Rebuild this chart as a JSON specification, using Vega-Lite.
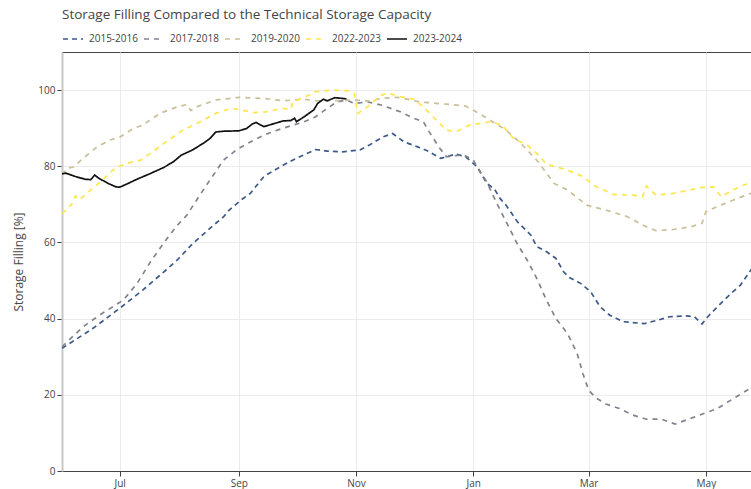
{
  "$schema": "https://vega.github.io/schema/vega-lite/v6.json",
  "width": 690,
  "height": 419,
  "autosize": {"type": "none"},
  "padding": {"left": 62, "top": 52, "right": 0, "bottom": 18},
  "title": {"text": "Storage Filling Compared to the Technical Storage Capacity", "anchor": "start", "frame": "group", "font": "Open Sans", "fontSize": 13.5, "fontWeight": "normal", "color": "#444", "offset": 7},
  "datasets": {
    "raw": [
      {"s":"2015-2016","d":"2023-06-01","v":32.2},{"s":"2015-2016","d":"2023-06-17","v":37.4},{"s":"2015-2016","d":"2023-07-01","v":42.7},{"s":"2015-2016","d":"2023-07-13","v":47.5},{"s":"2015-2016","d":"2023-07-25","v":52.7},{"s":"2015-2016","d":"2023-07-31","v":55.4},{"s":"2015-2016","d":"2023-08-08","v":59.7},{"s":"2015-2016","d":"2023-08-19","v":64.6},{"s":"2015-2016","d":"2023-08-24","v":66.7},{"s":"2015-2016","d":"2023-08-27","v":68.5},{"s":"2015-2016","d":"2023-09-02","v":71.1},{"s":"2015-2016","d":"2023-09-07","v":72.9},{"s":"2015-2016","d":"2023-09-14","v":77.3},{"s":"2015-2016","d":"2023-09-24","v":80.3},{"s":"2015-2016","d":"2023-10-01","v":82.1},{"s":"2015-2016","d":"2023-10-11","v":84.4},{"s":"2015-2016","d":"2023-10-17","v":84.0},{"s":"2015-2016","d":"2023-10-25","v":83.8},{"s":"2015-2016","d":"2023-11-03","v":84.3},{"s":"2015-2016","d":"2023-11-08","v":85.6},{"s":"2015-2016","d":"2023-11-15","v":87.7},{"s":"2015-2016","d":"2023-11-20","v":88.6},{"s":"2015-2016","d":"2023-11-26","v":86.4},{"s":"2015-2016","d":"2023-12-03","v":85.1},{"s":"2015-2016","d":"2023-12-08","v":84.1},{"s":"2015-2016","d":"2023-12-15","v":82.1},{"s":"2015-2016","d":"2023-12-18","v":82.5},{"s":"2015-2016","d":"2023-12-23","v":83.2},{"s":"2015-2016","d":"2023-12-28","v":82.5},{"s":"2015-2016","d":"2024-01-03","v":79.9},{"s":"2015-2016","d":"2024-01-08","v":75.5},{"s":"2015-2016","d":"2024-01-12","v":74.0},{"s":"2015-2016","d":"2024-01-15","v":71.5},{"s":"2015-2016","d":"2024-01-18","v":69.8},{"s":"2015-2016","d":"2024-01-24","v":65.4},{"s":"2015-2016","d":"2024-01-31","v":61.9},{"s":"2015-2016","d":"2024-02-03","v":58.9},{"s":"2015-2016","d":"2024-02-08","v":57.6},{"s":"2015-2016","d":"2024-02-13","v":55.8},{"s":"2015-2016","d":"2024-02-17","v":52.3},{"s":"2015-2016","d":"2024-02-20","v":50.8},{"s":"2015-2016","d":"2024-02-26","v":49.2},{"s":"2015-2016","d":"2024-03-02","v":47.1},{"s":"2015-2016","d":"2024-03-07","v":43.1},{"s":"2015-2016","d":"2024-03-12","v":40.9},{"s":"2015-2016","d":"2024-03-19","v":39.2},{"s":"2015-2016","d":"2024-03-30","v":38.7},{"s":"2015-2016","d":"2024-04-06","v":39.6},{"s":"2015-2016","d":"2024-04-12","v":40.5},{"s":"2015-2016","d":"2024-04-21","v":40.7},{"s":"2015-2016","d":"2024-04-25","v":40.5},{"s":"2015-2016","d":"2024-04-29","v":38.6},{"s":"2015-2016","d":"2024-05-02","v":40.5},{"s":"2015-2016","d":"2024-05-07","v":43.1},{"s":"2015-2016","d":"2024-05-14","v":46.6},{"s":"2015-2016","d":"2024-05-19","v":48.8},{"s":"2015-2016","d":"2024-05-25","v":53.2},

      {"s":"2017-2018","d":"2023-06-01","v":32.6},{"s":"2017-2018","d":"2023-06-12","v":37.9},{"s":"2017-2018","d":"2023-06-22","v":41.4},{"s":"2017-2018","d":"2023-07-03","v":44.9},{"s":"2017-2018","d":"2023-07-10","v":49.2},{"s":"2017-2018","d":"2023-07-17","v":54.9},{"s":"2017-2018","d":"2023-07-25","v":60.6},{"s":"2017-2018","d":"2023-07-31","v":64.5},{"s":"2017-2018","d":"2023-08-05","v":67.2},{"s":"2017-2018","d":"2023-08-10","v":71.1},{"s":"2017-2018","d":"2023-08-17","v":76.4},{"s":"2017-2018","d":"2023-08-24","v":81.6},{"s":"2017-2018","d":"2023-08-31","v":84.4},{"s":"2017-2018","d":"2023-09-07","v":86.4},{"s":"2017-2018","d":"2023-09-14","v":88.2},{"s":"2017-2018","d":"2023-09-21","v":89.5},{"s":"2017-2018","d":"2023-09-28","v":90.6},{"s":"2017-2018","d":"2023-10-05","v":91.7},{"s":"2017-2018","d":"2023-10-11","v":93.0},{"s":"2017-2018","d":"2023-10-17","v":95.2},{"s":"2017-2018","d":"2023-10-22","v":96.9},{"s":"2017-2018","d":"2023-10-27","v":97.4},{"s":"2017-2018","d":"2023-10-31","v":96.5},{"s":"2017-2018","d":"2023-11-07","v":96.9},{"s":"2017-2018","d":"2023-11-14","v":96.1},{"s":"2017-2018","d":"2023-11-19","v":95.2},{"s":"2017-2018","d":"2023-11-24","v":94.3},{"s":"2017-2018","d":"2023-12-01","v":92.6},{"s":"2017-2018","d":"2023-12-06","v":91.7},{"s":"2017-2018","d":"2023-12-09","v":89.1},{"s":"2017-2018","d":"2023-12-14","v":85.1},{"s":"2017-2018","d":"2023-12-18","v":82.5},{"s":"2017-2018","d":"2023-12-23","v":82.8},{"s":"2017-2018","d":"2023-12-27","v":83.0},{"s":"2017-2018","d":"2024-01-01","v":81.6},{"s":"2017-2018","d":"2024-01-04","v":79.0},{"s":"2017-2018","d":"2024-01-08","v":75.9},{"s":"2017-2018","d":"2024-01-13","v":70.5},{"s":"2017-2018","d":"2024-01-18","v":65.5},{"s":"2017-2018","d":"2024-01-24","v":59.5},{"s":"2017-2018","d":"2024-01-29","v":55.4},{"s":"2017-2018","d":"2024-02-03","v":50.6},{"s":"2017-2018","d":"2024-02-08","v":44.9},{"s":"2017-2018","d":"2024-02-13","v":40.0},{"s":"2017-2018","d":"2024-02-19","v":36.1},{"s":"2017-2018","d":"2024-02-24","v":30.9},{"s":"2017-2018","d":"2024-02-27","v":25.6},{"s":"2017-2018","d":"2024-03-01","v":21.2},{"s":"2017-2018","d":"2024-03-05","v":19.1},{"s":"2017-2018","d":"2024-03-10","v":17.6},{"s":"2017-2018","d":"2024-03-17","v":16.4},{"s":"2017-2018","d":"2024-03-24","v":14.7},{"s":"2017-2018","d":"2024-03-31","v":13.6},{"s":"2017-2018","d":"2024-04-08","v":13.6},{"s":"2017-2018","d":"2024-04-15","v":12.3},{"s":"2017-2018","d":"2024-04-23","v":13.8},{"s":"2017-2018","d":"2024-05-01","v":15.3},{"s":"2017-2018","d":"2024-05-07","v":16.4},{"s":"2017-2018","d":"2024-05-14","v":18.6},{"s":"2017-2018","d":"2024-05-25","v":22.0},

      {"s":"2019-2020","d":"2023-06-01","v":77.8},{"s":"2019-2020","d":"2023-06-04","v":79.5},{"s":"2019-2020","d":"2023-06-07","v":79.8},{"s":"2019-2020","d":"2023-06-12","v":82.1},{"s":"2019-2020","d":"2023-06-19","v":85.0},{"s":"2019-2020","d":"2023-06-26","v":86.9},{"s":"2019-2020","d":"2023-07-01","v":87.6},{"s":"2019-2020","d":"2023-07-08","v":89.9},{"s":"2019-2020","d":"2023-07-13","v":90.8},{"s":"2019-2020","d":"2023-07-22","v":93.9},{"s":"2019-2020","d":"2023-07-31","v":95.6},{"s":"2019-2020","d":"2023-08-05","v":96.2},{"s":"2019-2020","d":"2023-08-07","v":94.6},{"s":"2019-2020","d":"2023-08-10","v":95.6},{"s":"2019-2020","d":"2023-08-20","v":97.4},{"s":"2019-2020","d":"2023-09-01","v":98.1},{"s":"2019-2020","d":"2023-09-14","v":97.8},{"s":"2019-2020","d":"2023-09-24","v":97.2},{"s":"2019-2020","d":"2023-10-05","v":97.6},{"s":"2019-2020","d":"2023-10-11","v":97.2},{"s":"2019-2020","d":"2023-10-20","v":97.2},{"s":"2019-2020","d":"2023-10-31","v":97.4},{"s":"2019-2020","d":"2023-11-08","v":97.1},{"s":"2019-2020","d":"2023-11-14","v":97.8},{"s":"2019-2020","d":"2023-11-22","v":98.1},{"s":"2019-2020","d":"2023-11-24","v":98.0},{"s":"2019-2020","d":"2023-12-04","v":96.9},{"s":"2019-2020","d":"2023-12-18","v":96.3},{"s":"2019-2020","d":"2023-12-28","v":95.8},{"s":"2019-2020","d":"2024-01-04","v":93.9},{"s":"2019-2020","d":"2024-01-11","v":91.7},{"s":"2019-2020","d":"2024-01-18","v":89.5},{"s":"2019-2020","d":"2024-01-25","v":86.4},{"s":"2019-2020","d":"2024-02-03","v":81.6},{"s":"2019-2020","d":"2024-02-12","v":75.5},{"s":"2019-2020","d":"2024-02-19","v":73.8},{"s":"2019-2020","d":"2024-02-29","v":69.8},{"s":"2019-2020","d":"2024-03-10","v":68.5},{"s":"2019-2020","d":"2024-03-21","v":66.8},{"s":"2019-2020","d":"2024-03-31","v":64.1},{"s":"2019-2020","d":"2024-04-05","v":63.1},{"s":"2019-2020","d":"2024-04-14","v":63.4},{"s":"2019-2020","d":"2024-04-23","v":64.1},{"s":"2019-2020","d":"2024-04-29","v":65.0},{"s":"2019-2020","d":"2024-05-01","v":68.1},{"s":"2019-2020","d":"2024-05-07","v":69.4},{"s":"2019-2020","d":"2024-05-15","v":71.1},{"s":"2019-2020","d":"2024-05-25","v":73.0},

      {"s":"2022-2023","d":"2023-06-01","v":67.5},{"s":"2022-2023","d":"2023-06-06","v":70.0},{"s":"2022-2023","d":"2023-06-08","v":72.2},{"s":"2022-2023","d":"2023-06-10","v":71.2},{"s":"2022-2023","d":"2023-06-17","v":74.2},{"s":"2022-2023","d":"2023-06-22","v":76.4},{"s":"2022-2023","d":"2023-06-29","v":79.7},{"s":"2022-2023","d":"2023-07-05","v":80.8},{"s":"2022-2023","d":"2023-07-12","v":81.6},{"s":"2022-2023","d":"2023-07-17","v":83.4},{"s":"2022-2023","d":"2023-07-25","v":86.4},{"s":"2022-2023","d":"2023-08-03","v":89.5},{"s":"2022-2023","d":"2023-08-12","v":91.7},{"s":"2022-2023","d":"2023-08-20","v":93.9},{"s":"2022-2023","d":"2023-08-28","v":95.2},{"s":"2022-2023","d":"2023-09-02","v":94.8},{"s":"2022-2023","d":"2023-09-09","v":94.1},{"s":"2022-2023","d":"2023-09-15","v":94.3},{"s":"2022-2023","d":"2023-09-24","v":95.2},{"s":"2022-2023","d":"2023-09-28","v":94.9},{"s":"2022-2023","d":"2023-09-29","v":96.9},{"s":"2022-2023","d":"2023-10-06","v":98.3},{"s":"2022-2023","d":"2023-10-11","v":99.6},{"s":"2022-2023","d":"2023-10-20","v":100.0},{"s":"2022-2023","d":"2023-10-29","v":99.8},{"s":"2022-2023","d":"2023-10-31","v":99.1},{"s":"2022-2023","d":"2023-11-02","v":93.9},{"s":"2022-2023","d":"2023-11-07","v":95.6},{"s":"2022-2023","d":"2023-11-13","v":98.3},{"s":"2022-2023","d":"2023-11-17","v":99.3},{"s":"2022-2023","d":"2023-11-24","v":98.3},{"s":"2022-2023","d":"2023-12-01","v":97.6},{"s":"2022-2023","d":"2023-12-06","v":95.6},{"s":"2022-2023","d":"2023-12-11","v":93.0},{"s":"2022-2023","d":"2023-12-18","v":89.5},{"s":"2022-2023","d":"2023-12-23","v":89.1},{"s":"2022-2023","d":"2023-12-30","v":90.8},{"s":"2022-2023","d":"2024-01-10","v":91.7},{"s":"2022-2023","d":"2024-01-16","v":90.8},{"s":"2022-2023","d":"2024-01-22","v":87.3},{"s":"2022-2023","d":"2024-01-29","v":85.6},{"s":"2022-2023","d":"2024-02-03","v":83.4},{"s":"2022-2023","d":"2024-02-08","v":80.6},{"s":"2022-2023","d":"2024-02-19","v":79.0},{"s":"2022-2023","d":"2024-02-27","v":77.3},{"s":"2022-2023","d":"2024-03-05","v":74.6},{"s":"2022-2023","d":"2024-03-14","v":72.6},{"s":"2022-2023","d":"2024-03-24","v":72.4},{"s":"2022-2023","d":"2024-03-29","v":72.0},{"s":"2022-2023","d":"2024-03-31","v":74.8},{"s":"2022-2023","d":"2024-04-05","v":72.4},{"s":"2022-2023","d":"2024-04-14","v":72.9},{"s":"2022-2023","d":"2024-04-23","v":73.8},{"s":"2022-2023","d":"2024-04-28","v":74.4},{"s":"2022-2023","d":"2024-05-05","v":74.6},{"s":"2022-2023","d":"2024-05-09","v":72.0},{"s":"2022-2023","d":"2024-05-15","v":73.8},{"s":"2022-2023","d":"2024-05-25","v":76.0},

      {"s":"2023-2024","d":"2023-06-01","v":78.0},{"s":"2023-2024","d":"2023-06-03","v":78.2},{"s":"2023-2024","d":"2023-06-08","v":77.3},{"s":"2023-2024","d":"2023-06-13","v":76.6},{"s":"2023-2024","d":"2023-06-16","v":76.5},{"s":"2023-2024","d":"2023-06-18","v":77.7},{"s":"2023-2024","d":"2023-06-20","v":76.9},{"s":"2023-2024","d":"2023-06-25","v":75.5},{"s":"2023-2024","d":"2023-06-29","v":74.6},{"s":"2023-2024","d":"2023-07-01","v":74.5},{"s":"2023-2024","d":"2023-07-05","v":75.4},{"s":"2023-2024","d":"2023-07-10","v":76.6},{"s":"2023-2024","d":"2023-07-17","v":78.1},{"s":"2023-2024","d":"2023-07-24","v":79.7},{"s":"2023-2024","d":"2023-07-29","v":81.2},{"s":"2023-2024","d":"2023-08-02","v":82.9},{"s":"2023-2024","d":"2023-08-08","v":84.3},{"s":"2023-2024","d":"2023-08-14","v":86.2},{"s":"2023-2024","d":"2023-08-17","v":87.3},{"s":"2023-2024","d":"2023-08-20","v":89.0},{"s":"2023-2024","d":"2023-08-24","v":89.2},{"s":"2023-2024","d":"2023-09-01","v":89.3},{"s":"2023-2024","d":"2023-09-05","v":89.9},{"s":"2023-2024","d":"2023-09-08","v":91.1},{"s":"2023-2024","d":"2023-09-10","v":91.5},{"s":"2023-2024","d":"2023-09-14","v":90.4},{"s":"2023-2024","d":"2023-09-18","v":91.0},{"s":"2023-2024","d":"2023-09-24","v":91.9},{"s":"2023-2024","d":"2023-09-28","v":92.0},{"s":"2023-2024","d":"2023-09-30","v":92.6},{"s":"2023-2024","d":"2023-10-01","v":91.7},{"s":"2023-2024","d":"2023-10-05","v":93.0},{"s":"2023-2024","d":"2023-10-10","v":94.8},{"s":"2023-2024","d":"2023-10-12","v":96.5},{"s":"2023-2024","d":"2023-10-15","v":97.6},{"s":"2023-2024","d":"2023-10-17","v":97.2},{"s":"2023-2024","d":"2023-10-21","v":98.0},{"s":"2023-2024","d":"2023-10-27","v":97.7}
    ]
  },
  "data": {"name": "raw"},
  "mark": {"type": "line", "clip": true, "strokeWidth": 1.7},
  "encoding": {
    "x": {
      "field": "d", "type": "temporal",
      "scale": {"type": "utc", "domain": [{"year": 2023, "month": 6, "date": 1, "utc": true}, {"year": 2024, "month": 5, "date": 25, "utc": true}]},
      "axis": {
        "title": null, "labelExpr": "utcFormat(datum.value, '%b')",
        "values": [{"year": 2023, "month": 7, "date": 1, "utc": true}, {"year": 2023, "month": 9, "date": 1, "utc": true}, {"year": 2023, "month": 11, "date": 1, "utc": true}, {"year": 2024, "month": 1, "date": 1, "utc": true}, {"year": 2024, "month": 3, "date": 1, "utc": true}, {"year": 2024, "month": 5, "date": 1, "utc": true}],
        "domainColor": "#444", "domainWidth": 1, "labelPadding": 2
      }
    },
    "y": {
      "field": "v", "type": "quantitative",
      "scale": {"domain": [0, 110], "nice": false},
      "axis": {"title": "Storage Filling [%]", "values": [0, 20, 40, 60, 80, 100], "domainColor": "#c8c8c8", "domainWidth": 2, "labelPadding": 2, "titlePadding": 12}
    },
    "color": {
      "field": "s", "type": "nominal",
      "scale": {"domain": ["2015-2016", "2017-2018", "2019-2020", "2022-2023", "2023-2024"], "range": ["#3d5a87", "#82838f", "#c9bf98", "#fde64b", "#111111"]},
      "legend": {"title": null, "orient": "none", "legendX": 0, "legendY": -24, "direction": "horizontal", "symbolType": "stroke", "symbolSize": 400, "symbolStrokeWidth": 1.5, "labelFontSize": 10, "labelColor": "#444", "labelFont": "Open Sans", "columnPadding": 3, "labelOffset": 5}
    },
    "strokeDash": {
      "field": "s", "type": "nominal",
      "scale": {"domain": ["2015-2016", "2017-2018", "2019-2020", "2022-2023", "2023-2024"], "range": [[5, 4], [5, 5], [5, 5], [5, 5], [1, 0]]},
      "legend": {"title": null, "orient": "none", "legendX": 0, "legendY": -24, "direction": "horizontal", "symbolType": "stroke", "symbolSize": 400, "symbolStrokeWidth": 1.5, "labelFontSize": 10, "labelColor": "#444", "labelFont": "Open Sans", "columnPadding": 3, "labelOffset": 5}
    }
  },
  "config": {
    "font": "Open Sans",
    "view": {"stroke": "#444", "strokeWidth": 1},
    "axis": {"gridColor": "#ebebeb", "gridWidth": 1, "tickColor": "#444", "tickSize": 5, "labelColor": "#444", "labelFontSize": 10, "labelFont": "Open Sans", "titleFont": "Open Sans", "titleFontSize": 12, "titleFontWeight": "normal", "titleColor": "#444"}
  }
}
